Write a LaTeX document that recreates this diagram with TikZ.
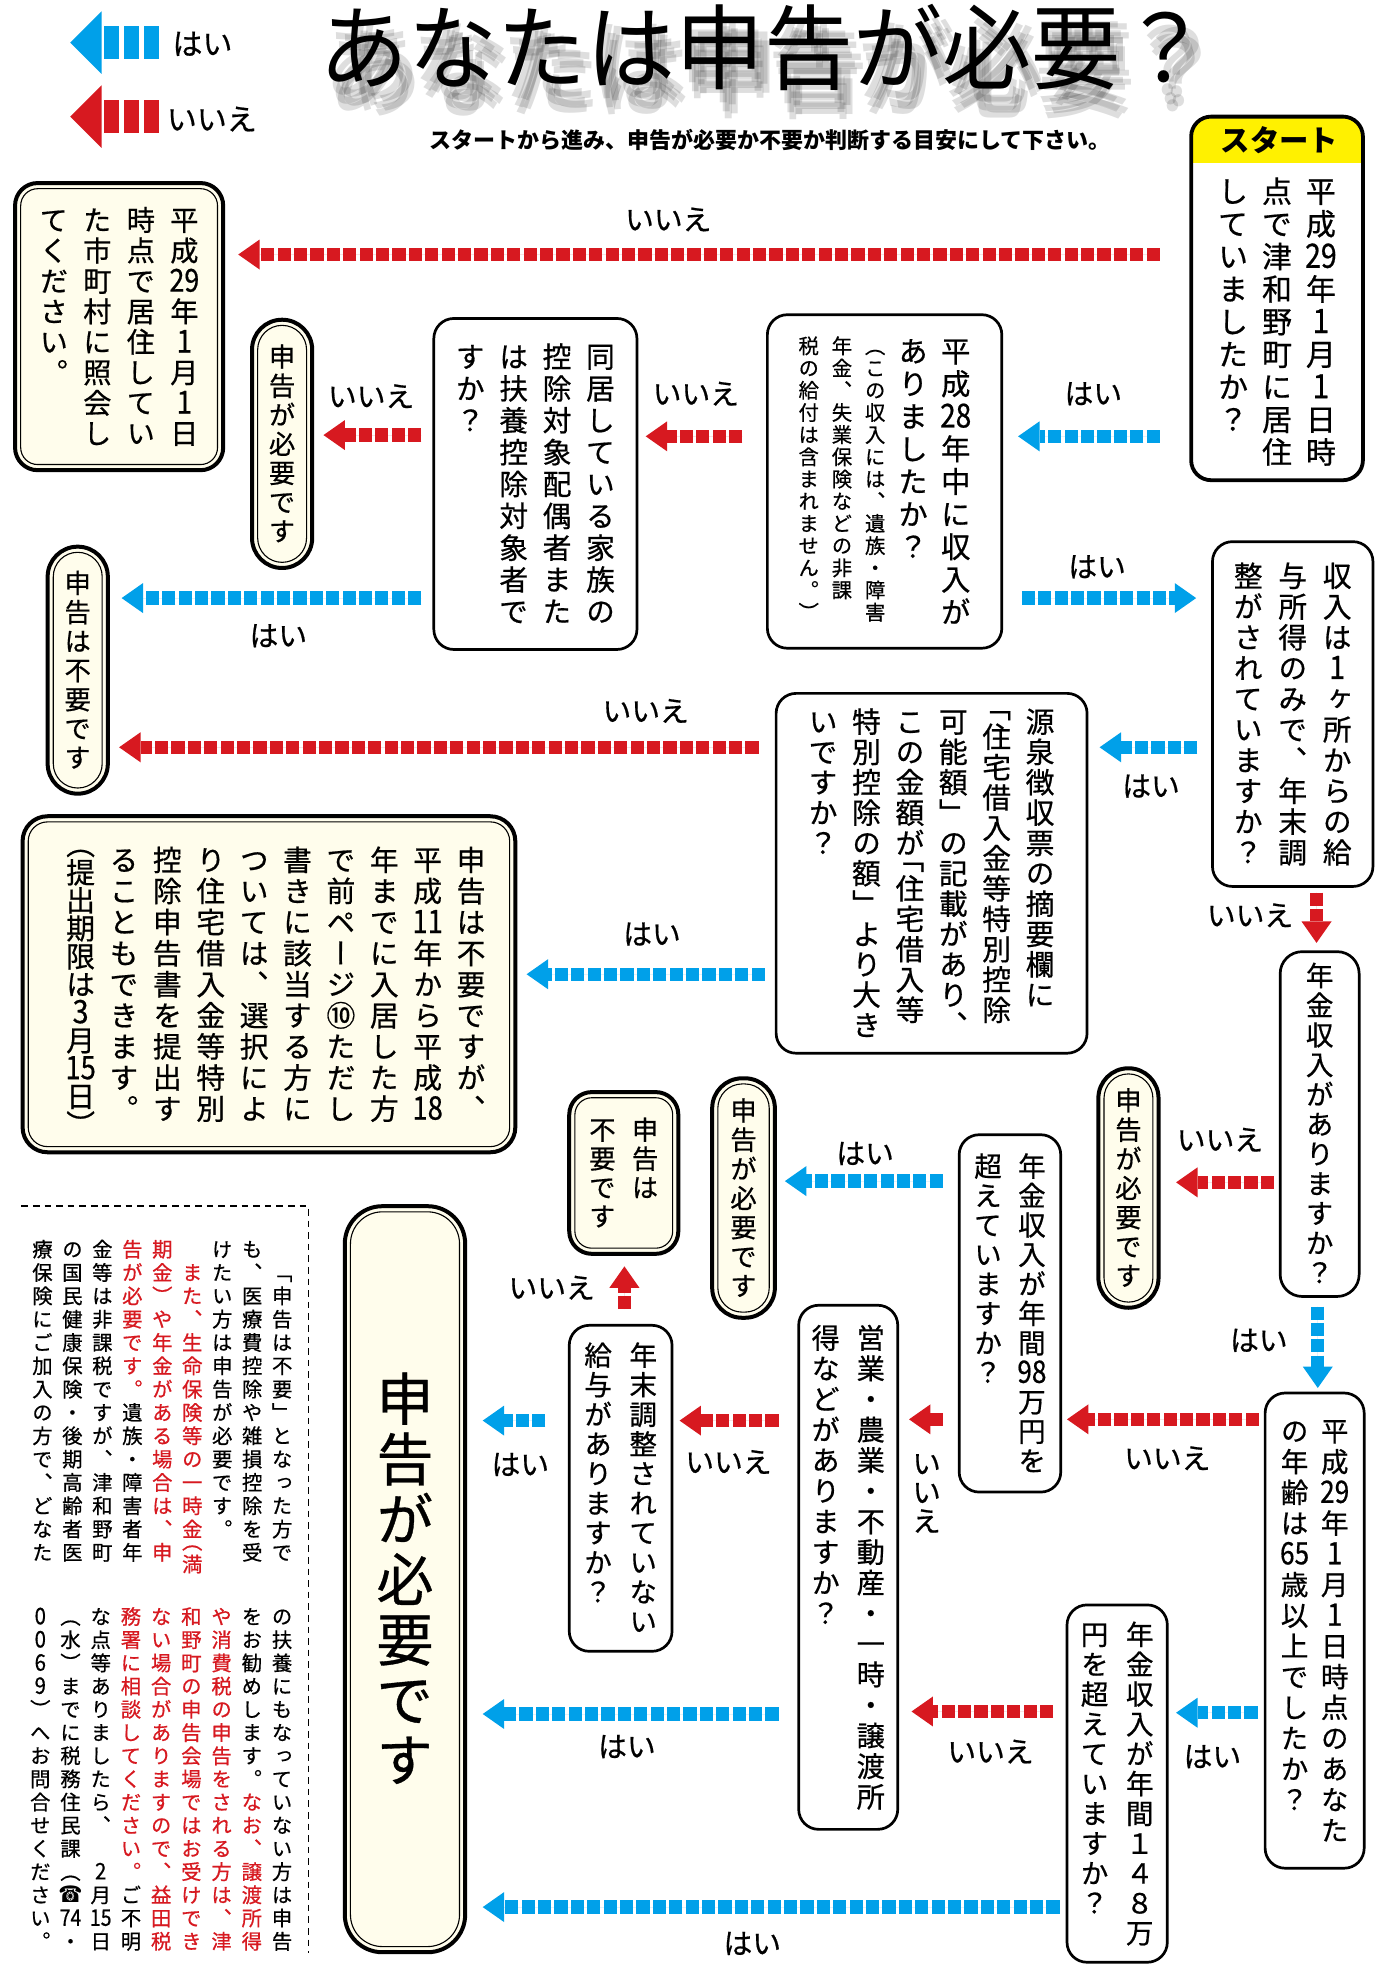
\documentclass[tikz,border=0pt]{standalone}
\usepackage{fontspec}
\usepackage{graphicx}
\usetikzlibrary{arrows.meta,calc}
\newfontfamily\jv{Noto Sans CJK JP}[RawFeature=+vert, FakeBold=0.6]
\newfontfamily\jh{Noto Sans CJK JP}[FakeBold=0.6]
\newfontfamily\jt{Noto Sans CJK JP}
\newfontfamily\dvs{DejaVu Sans}
\definecolor{jblue}{RGB}{0,160,233}
\definecolor{jred}{RGB}{215,25,32}
\definecolor{jyellow}{RGB}{255,241,0}
\definecolor{cream}{RGB}{255,253,236}
\newdimen\pxu \pxu=0.62705pt
\ExplSyntaxOn
\dim_new:N \l_vc_p_dim
\dim_new:N \l_vc_w_dim
\seq_new:N \l_vc_cols_seq
\tl_new:N \g_vc_color_tl
\tl_new:N \g_vc_next_tl
\cs_new_protected:Npn \vc_box:nnn #1#2#3
  {
    \vbox_to_ht:nn {#1}
      {
        \skip_vertical:n {#2}
        \hbox_to_wd:nn { \l_vc_w_dim } { \hss \smash{ \color{\g_vc_color_tl} #3 } \hss }
        \vss
      }
  }
\cs_new_protected:Npn \vc_full:n #1
  { \vc_box:nnn { \l_vc_p_dim } { \l_vc_p_dim / 2 + 0.38em } {#1} }
\cs_new_protected:Npn \vc_open:n #1
  { \vc_box:nnn { \l_vc_p_dim / 2 } { \l_vc_p_dim / 4 + 0.13em } {#1} }
\cs_new_protected:Npn \vc_close:n #1
  { \vc_box:nnn { \l_vc_p_dim / 2 } { \l_vc_p_dim / 4 + 0.63em } {#1} }
\cs_new_protected:Npn \vc_plain:n #1
  {
    \tl_if_in:nnTF { 0123456789 } {#1}
      { \vc_full:n { \scalebox{1}[1.12]{#1} } }
      { \vc_full:n {#1} }
  }
\cs_new_protected:Npn \vc_char:n #1
  {
    \tl_if_empty:NTF \g_vc_next_tl
      { \vc_plain:n {#1} }
      {
        \tl_gset:Nn \g_vc_next_tl {}
        \str_case:nnF {#1}
          {
            {（} { \vc_open:n {#1} }
            {「} { \vc_open:n {#1} }
            {）} { \vc_close:n {#1} }
            {」} { \vc_close:n {#1} }
          }
          { \vc_plain:n {#1} }
      }
  }
\cs_new_protected:Npn \vc_item:n #1
  {
    \tl_if_single_token:nTF {#1}
      {
        \token_if_cs:NTF #1
          { #1 }
          { \vc_char:n {#1} }
      }
      { \vc_full:n { \scalebox{0.95}[1.12]{#1} } }
  }
\cs_new_protected:Npn \vc_col:n #1
  {
    \vtop
      {
        \tl_gset:Nn \g_vc_color_tl {black}
        \offinterlineskip
        \hrule height \c_zero_dim width \c_zero_dim
        \tl_map_inline:nn {#1} { \vc_item:n {##1} }
      }
  }
\NewDocumentCommand \vtext { m m m }
  {
    \group_begin:
      \dim_set:Nn \l_vc_p_dim {#1}
      \dim_set:Nn \l_vc_w_dim {#2}
      \tl_gset:Nn \g_vc_color_tl {black}
      \tl_gset:Nn \g_vc_next_tl {}
      \seq_set_split:Nnn \l_vc_cols_seq { | } {#3}
      \seq_reverse:N \l_vc_cols_seq
      \hbox:n { \seq_map_inline:Nn \l_vc_cols_seq { \vc_col:n {##1} } }
    \group_end:
  }
\NewDocumentCommand \RD {} { \tl_gset:Nn \g_vc_color_tl {jred} }
\NewDocumentCommand \BK {} { \tl_gset:Nn \g_vc_color_tl {black} }
\NewDocumentCommand \HB {} { \tl_gset:Nn \g_vc_next_tl {h} }
\NewDocumentCommand \HS {} { \skip_vertical:n { \l_vc_p_dim / 2 } }
\NewDocumentCommand \NP {} { \dim_set:Nn \l_vc_p_dim { 0.9\l_vc_p_dim } }
\ExplSyntaxOff
\tikzset{
  sz/.style 2 args={minimum width=#1*\pxu, minimum height=#2*\pxu},
  sbox/.style={draw, line width=1.35pt, fill=white, rounded corners=10pt, inner sep=0pt, outer sep=0pt},
  dbox/.style={draw, line width=2pt, fill=cream, rounded corners=#1, inner sep=0pt, outer sep=0pt},
  fa/.style={font=\jv\fontsize{14.4}{14.4}\selectfont},
  fb/.style={font=\jv\fontsize{13.2}{13.2}\selectfont},
  fc/.style={font=\jv\fontsize{13.8}{13.8}\selectfont},
  lab/.style={font=\jh\fontsize{14.4}{14.4}\selectfont, inner sep=0pt},
  leg/.style={font=\jh\fontsize{15}{15}\selectfont, inner sep=0pt},
  ttl/.style={font=\jt\fontsize{44.5}{44.5}\selectfont, anchor=base, inner sep=0pt},
  arr/.style={line width=6.65pt, dash pattern=on 6.6pt off 1.6pt,
    -{Triangle[length=10.7pt,width=15pt,line width=0pt]}},
  yesA/.style={arr, draw=jblue, fill=jblue},
  noA/.style={arr, draw=jred, fill=jred},
}
\newcommand\inln[2]{\draw[line width=0.55pt, rounded corners=#2] ($(#1.north west)+(4.5,4.5)$) rectangle ($(#1.south east)+(-4.5,-4.5)$);}
\newcommand\ttltext{\scalebox{1}[1.04]{あなたは申告が必要？}}
\begin{document}
\begin{tikzpicture}[x=0.62705pt,y=-0.62705pt]
\useasboundingbox (0,0) rectangle (1102,1568);
\fill[white] (0,0) rectangle (1102,1568);

% legend
\fill[jblue] (56,34) -- (81,9) -- (81,59) -- cycle;
\foreach \xa in {83,99,115} \fill[jblue] (\xa,21) rectangle (\xa+12,47);
\fill[jred] (56,93) -- (81,68) -- (81,118) -- cycle;
\foreach \xa in {83,99,115} \fill[jred] (\xa,80) rectangle (\xa+12,106);
\node[leg] (legyes) at (161.5,35) {はい};
\node[leg] (legno) at (169,95) {いいえ};

% title with soft shadow
\foreach \dx/\dy [count=\i] in {3/10,10/12,5/17,12/19,7/23}
  \node[ttl, opacity=0.13] (tsh\i) at (610+\dx,66+\dy) {\ttltext};
\node[ttl] (title) at (610,66) {\ttltext};
\node[font=\jt\bfseries\fontsize{11}{11}\selectfont, inner sep=0pt] (subt) at (614,112) {スタートから進み、申告が必要か不要か判断する目安にして下さい。};

% start box
\node[sz={137}{290}, fill=white, inner sep=0pt, outer sep=0pt, rounded corners=10pt, text height=23.2pt, font=\jv\fontsize{15}{15}\selectfont] (start) at (1018.5,238)
  {\vtext{26\pxu}{35\pxu}{平成{29}年1月1日時|点で津和野町に居住|していましたか？}};
\begin{scope}
\clip (start.north west) rectangle ($(start.north east)+(0,37)$);
\fill[jyellow, rounded corners=10pt] (start.north west) rectangle (start.south east);
\end{scope}
\draw[line width=1.9pt, rounded corners=10pt] (start.north west) rectangle (start.south east);
\node[font=\jt\bfseries\fontsize{14.7}{14.7}\selectfont, inner sep=0pt] (starthdr) at ($(start.north)+(2,18.5)$) {スタート};

% boxes
\node[dbox=11.3pt, sz={166}{229}, font=\jv\fontsize{14.1}{14.1}\selectfont] (A) at (95,260.5)
  {\vtext{24.3\pxu}{34.7\pxu}{平成{29}年1月1日|時点で居住してい|た市町村に照会し|てください。}};
\inln{A}{8.5pt}
\node[dbox=15pt, sz={48}{198}, fb] (D) at (225,354) {\vtext{23.2\pxu}{30\pxu}{申告が必要です}};
\inln{D}{12.2pt}
\node[dbox=15pt, sz={48}{197}, fb] (E) at (62,534.5) {\vtext{23.2\pxu}{30\pxu}{申告は不要です}};
\inln{E}{12.2pt}
\node[sbox, sz={162}{264}, fa] (C) at (427,386)
  {\vtext{25.4\pxu}{34.6\pxu}{同居している家族の|控除対象配偶者また|は扶養控除対象者で|すか？}};
\node[sbox, sz={187}{266}, font=\jv] (B) at (705.5,384)
  {\fontsize{10.2}{10.2}\selectfont\vtext{17.7\pxu}{26.5\pxu}{（この収入には、遺族・障害|年金、失業保険などの非課|税の給付は含まれません。）}\fontsize{14.7}{14.7}\selectfont\vtext{26\pxu}{34\pxu}{平成{28}年中に収入が|ありましたか？}};
\node[sbox, sz={128}{275}, fa] (F) at (1031,569.5)
  {\vtext{24.5\pxu}{35.5\pxu}{収入は1ヶ所からの給|与所得のみで、年末調|整がされていますか？}};
\node[sbox, sz={248}{287}, fa] (G) at (743,696.5)
  {\vtext{24.2\pxu}{34.6\pxu}{源泉徴収票の摘要欄に|\HB 「住宅借入金等特別控除|可能額」の記載があり、|この金額が\HB 「住宅借入等|特別控除の額」より大き|いですか？}};
\node[dbox=12.5pt, sz={393}{268}, fa] (H) at (214.5,785)
  {\hspace{11\pxu}\vtext{24.8\pxu}{34.6\pxu}{申告は不要ですが、|平成{11}年から平成{18}|年までに入居した方|で前ページ⑩ただし|書きに該当する方に|ついては、選択によ|り住宅借入金等特別|控除申告書を提出す|ることもできます。|\NP \HB （提出期限は3月{15}日\HB ）}};
\inln{H}{9.7pt}
\node[sbox, rounded corners=11pt, sz={63}{275}, fc] (I) at (1052.5,896.5)
  {\vtext{23.7\pxu}{34\pxu}{年金収入がありますか？}};
\node[dbox=15pt, sz={48}{191}, fb] (J) at (900,947.5) {\vtext{23.3\pxu}{30\pxu}{申告が必要です}};
\inln{J}{12.2pt}
\node[sbox, sz={79}{379}, fc] (K) at (1048.5,1300.5)
  {\vtext{24.5\pxu}{32\pxu}{平成{29}年1月1日時点のあなた|の年齢は{65}歳以上でしたか？}};
\node[sbox, sz={81}{285}, fc] (L) at (805.5,1047.5)
  {\vtext{23.5\pxu}{35\pxu}{年金収入が年間{98}万円を|超えていますか？}};
\node[dbox=15pt, sz={50}{191}, fb] (M) at (593,955.5) {\vtext{23.3\pxu}{30\pxu}{申告が必要です}};
\inln{M}{12.2pt}
\node[sbox, sz={79}{418}, font=\jv\fontsize{14.1}{14.1}\selectfont] (N) at (676.5,1250)
  {\vtext{24.4\pxu}{36\pxu}{営業・農業・不動産・一時・譲渡所|得などがありますか？}};
\node[sbox, sz={82}{260}, fc] (O) at (495,1187)
  {\vtext{23.6\pxu}{36\pxu}{年末調整されていない|給与がありますか？}};
\node[dbox=11.3pt, sz={87}{129}, fb] (P) at (497.5,935.5) {\vtext{23\pxu}{34\pxu}{申告は|不要です}};
\inln{P}{8.5pt}
\node[dbox=18.8pt, sz={96}{595}, font=\jv\fontsize{28.5}{28.5}\selectfont] (Q) at (323,1259.5)
  {\vtext{48\pxu}{60\pxu}{申告が必要です}};
\inln{Q}{16pt}
\node[sbox, sz={80}{285}, fc] (R) at (891,1422.5)
  {\vtext{23.8\pxu}{36\pxu}{年金収入が年間１４８万|円を超えていますか？}};

% note
\draw[line width=0.85pt, dash pattern=on 3.3pt off 2.5pt] (17,962) -- (246,962) -- (246,1558);
\node[anchor=north east, inner sep=0pt, outer sep=0pt, font=\jv\fontsize{10.2}{10.2}\selectfont] (noteu) at (237,987)
  {\vtext{18.6\pxu}{23.9\pxu}{　「申告は不要」となった方で|も、医療費控除や雑損控除を受|けたい方は申告が必要です。|\RD 　また、生命保険等の一時金\HB （満|\RD 期金）や年金がある場合は、申|\RD 告が必要です。\BK 遺族・障害者年|金等は非課税ですが、津和野町|の国民健康保険・後期高齢者医|療保険にご加入の方で、どなた}};
\node[anchor=north east, inner sep=0pt, outer sep=0pt, font=\jv\fontsize{10.2}{10.2}\selectfont] (notel) at (237,1280)
  {\vtext{18.5\pxu}{24.1\pxu}{の扶養にもなっていない方は申告|をお勧めします。\RD なお、譲渡所得|\RD や消費税の申告をされる方は、津|\RD 和野町の申告会場ではお受けでき|\RD ない場合がありますので、益田税|\RD 務署に相談してください。\BK ご不明|な点等ありましたら、　2月{15}日|（水）までに税務住民課（{{\dvs ☎}}{74}・|0069）へお問合せください。}};

% arrows
\draw[noA] ($(start.west)+(-25,-35)$) -- ($(A.east)+(12,-57.5)$);
\draw[yesA] ($(start.west)+(-25,110)$) -- ($(B.east)+(13,-36)$);
\draw[noA] ($(B.west)+(-20,-36)$) -- ($(C.east)+(7,-38)$);
\draw[noA] ($(C.west)+(-10,-39)$) -- ($(D.east)+(9,-7)$);
\draw[yesA] ($(C.west)+(-10,91)$) -- ($(E.east)+(11,-57.5)$);
\draw[yesA] ($(B.east)+(16,93)$) -- ($(F.west)+(-13,-92.5)$);
\draw[yesA] ($(F.west)+(-12,26.5)$) -- ($(G.east)+(10,-100.5)$);
\draw[noA] ($(G.west)+(-14,-100.5)$) -- ($(E.east)+(9,61.5)$);
\draw[yesA] ($(G.west)+(-9,80.5)$) -- ($(H.east)+(9,-8)$);
\draw[noA] ($(F.south)+(19,5)$) -- ($(I.north)+(-2.5,-7)$);
\draw[noA] ($(I.west)+(-5,46.5)$) -- ($(J.east)+(14,-4.5)$);
\draw[yesA] ($(I.south)+(-1.5,8)$) -- ($(K.north)+(2.5,-4)$);
\draw[noA] ($(K.west)+(-5,-168.5)$) -- ($(L.east)+(5,84.5)$);
\draw[yesA] ($(L.west)+(-13,-105.5)$) -- ($(M.east)+(8,-13.5)$);
\draw[noA] ($(L.west)+(-13,84.5)$) -- ($(N.east)+(9,-118)$);
\draw[noA] ($(N.west)+(-16,-117)$) -- ($(O.east)+(6,-54)$);
\draw[noA] ($(O.north)+(3,-13)$) -- ($(P.south)+(0.5,10)$);
\draw[yesA] ($(O.west)+(-19,-54)$) -- ($(Q.east)+(14,-126.5)$);
\draw[yesA] ($(N.west)+(-16,117)$) -- ($(Q.east)+(14,107.5)$);
\draw[yesA] ($(K.west)+(-6,65.5)$) -- ($(R.east)+(7,-56.5)$);
\draw[noA] ($(R.west)+(-11,-57.5)$) -- ($(N.east)+(11,115)$);
\draw[yesA] ($(R.west)+(-6,98.5)$) -- ($(Q.east)+(14,261.5)$);

% labels
\node[lab] (l1) at (533,175) {いいえ};
\node[lab] (l2) at (872,314) {はい};
\node[lab] (l3) at (555,314) {いいえ};
\node[lab] (l4) at (296,316) {いいえ};
\node[lab] (l5) at (222,507) {はい};
\node[lab] (l6) at (875,452) {はい};
\node[lab] (l7) at (918,627) {はい};
\node[lab] (l8) at (515,567) {いいえ};
\node[lab] (l9) at (520,745) {はい};
\node[lab] (l10) at (997,730) {いいえ};
\node[lab] (l11) at (973,909) {いいえ};
\node[lab] (l12) at (1004,1069) {はい};
\node[lab] (l13) at (931,1163) {いいえ};
\node[lab] (l14) at (690,920) {はい};
\node[inner sep=0pt, font=\jv\fontsize{14.4}{14.4}\selectfont] (l15) at (739,1190) {\vtext{23\pxu}{25\pxu}{いいえ}};
\node[lab] (l16) at (581,1166) {いいえ};
\node[lab] (l17) at (440,1027) {いいえ};
\node[lab] (l18) at (415,1168) {はい};
\node[lab] (l19) at (500,1393) {はい};
\node[lab] (l20) at (967,1401) {はい};
\node[lab] (l21) at (790,1397) {いいえ};
\node[lab] (l22) at (600,1550) {はい};
\end{tikzpicture}
\end{document}
